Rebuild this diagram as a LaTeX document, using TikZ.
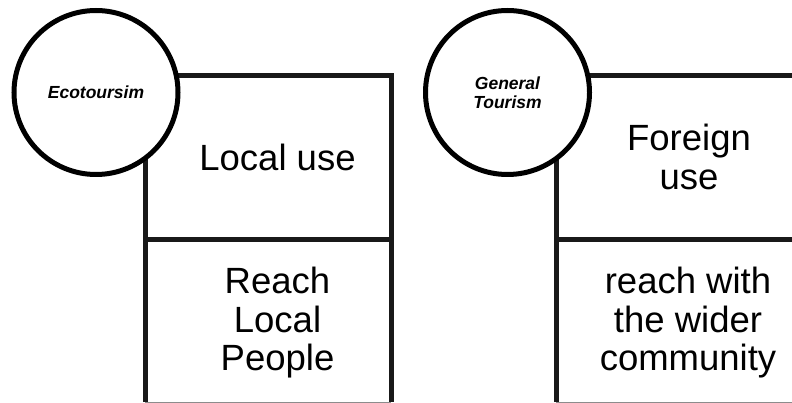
\documentclass[tikz,border=0pt]{standalone}
\usepackage{fontspec}
\setmainfont{Liberation Sans}
\begin{document}
\begin{tikzpicture}[x=1pt,y=-1pt,
  frame/.style={draw=black!90, line width=5pt},
  baseline rule/.style={draw=black!45, line width=1pt},
  topic/.style={circle, draw=black, fill=white, line width=5pt,
    minimum size=164pt, inner sep=0pt, align=center,
    font=\fontsize{17.5}{18.5}\selectfont\bfseries\itshape},
  cell/.style={inner sep=0pt, align=center,
    font=\fontsize{36.5}{38.5}\selectfont}]
  \useasboundingbox (0,0) rectangle (792,403);

  % ---- left panel: box corners ----
  \coordinate (LTL) at (145,76);
  \coordinate (LTR) at (391,76);
  \coordinate (LML) at (145,240);
  \coordinate (LMR) at (391,240);
  \coordinate (LBL) at (145,402);
  \coordinate (LBR) at (391,402);
  \draw[frame] (LBL) -- (LTL) -- (LTR) -- (LBR);
  \draw[frame] (LML) -- (LMR);
  \draw[baseline rule] (LBL) -- (LBR);
  \node[cell] (localuse) at (277.5,157) {Local use};
  \node[cell] (localpeople) at (277.5,323) {Reach\\Local\\People};
  \node[topic] (eco) at (96,92.5) {Ecotoursim};

  % ---- right panel: box corners ----
  \coordinate (RTL) at (556,76);
  \coordinate (RTR) at (830,76);
  \coordinate (RML) at (556,240);
  \coordinate (RMR) at (830,240);
  \coordinate (RBL) at (556,402);
  \coordinate (RBR) at (830,402);
  \draw[frame] (RBL) -- (RTL) -- (RTR);
  \draw[frame] (RML) -- (RMR);
  \draw[baseline rule] (RBL) -- (RBR);
  \node[cell] (foreignuse) at (689,157) {Foreign\\use};
  \node[cell] (wider) at (688,323) {reach with\\the wider\\community};
  \node[topic] (general) at (507.5,92.5) {General\\Tourism};
\end{tikzpicture}
\end{document}
